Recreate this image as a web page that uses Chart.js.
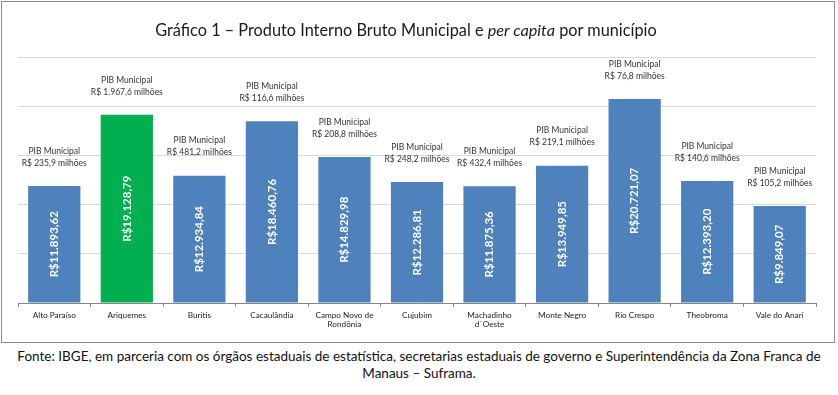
<!DOCTYPE html>
<html>
<head>
<meta charset="utf-8">
<script src="https://cdn.jsdelivr.net/npm/chart.js@4"></script>
<style>
  body { margin: 0; background: #fff; font-family: Lato, sans-serif; }
  #box { position: absolute; left: 1px; top: 1px; width: 832px; height: 340px; border: 1px solid #8c8c8c; }
  #title { position: absolute; left: -12px; top: 18px; width: 832px; text-align: center; font-size: 16.3px; color: #1a1a1a; }
  #wrap { position: absolute; left: 0; top: 0; width: 832px; height: 340px; }
  #fonte { position: absolute; left: 0; top: 348px; width: 838px; text-align: center; font-size: 13.5px; line-height: 17px; color: #111; }
</style>
</head>
<body>
<div id="box">
  <div id="wrap"><canvas id="chart"></canvas></div>
  <div id="title">Gráfico 1 – Produto Interno Bruto Municipal e <i>per capita</i> por município</div>
</div>
<div id="fonte">Fonte: IBGE, em parceria com os órgãos estaduais de estatística, secretarias estaduais de governo e Superintendência da Zona Franca de<br>Manaus – Suframa.</div>
<script>
const municipios = ['Alto Paraíso', 'Ariquemes', 'Buritis', 'Cacaulândia', ['Campo Novo de', 'Rondônia'],
  'Cujubim', ['Machadinho', 'd`Oeste'], 'Monte Negro', 'Rio Crespo', 'Theobroma', 'Vale do Anari'];
const pibPerCapita = [11893.62, 19128.79, 12934.84, 18460.76, 14829.98, 12286.81, 11875.36, 13949.85, 20721.07, 12393.20, 9849.07];
const pibMunicipal = [235.9, 1967.6, 481.2, 116.6, 208.8, 248.2, 432.4, 219.1, 76.8, 140.6, 105.2];
const destaque = 'Ariquemes';

function fmt(v, dec) {
  const parts = v.toFixed(dec).split('.');
  parts[0] = parts[0].replace(/\B(?=(\d{3})+(?!\d))/g, '.');
  return parts.join(',');
}

const barLabels = {
  id: 'barLabels',
  afterDatasetsDraw(chart) {
    const ctx = chart.ctx;
    const meta = chart.getDatasetMeta(0);
    meta.data.forEach((bar, i) => {
      ctx.save();
      ctx.fillStyle = '#333';
      ctx.font = '8.5px Lato, sans-serif';
      ctx.textAlign = 'center';
      ctx.textBaseline = 'middle';
      ctx.fillText('PIB Municipal', bar.x, bar.y - 35);
      ctx.fillText('R$ ' + fmt(pibMunicipal[i], 1) + ' milhões', bar.x, bar.y - 23);
      ctx.translate(bar.x, (bar.y + bar.base) / 2);
      ctx.rotate(-Math.PI / 2);
      ctx.fillStyle = '#fff';
      ctx.font = 'bold 11.5px Lato, sans-serif';
      ctx.fillText('R$' + fmt(pibPerCapita[i], 2), 0, 0);
      ctx.restore();
    });
  }
};

new Chart(document.getElementById('chart'), {
  type: 'bar',
  data: {
    labels: municipios,
    datasets: [{
      data: pibPerCapita,
      backgroundColor: municipios.map(m => m === destaque ? '#00B050' : '#4F81BD'),
      barPercentage: 0.72,
      categoryPercentage: 1
    }]
  },
  options: {
    responsive: true,
    maintainAspectRatio: false,
    animation: false,
    layout: { padding: { left: 16, right: 18, top: 55, bottom: 1 } },
    plugins: { legend: { display: false }, tooltip: { enabled: false } },
    scales: {
      x: {
        afterFit(scale) { scale.height = 38; },
        grid: { display: true, drawOnChartArea: false, drawTicks: true, tickLength: 4, color: '#868686' },
        border: { color: '#868686' },
        ticks: { color: '#222', font: { family: 'Lato', size: 8.2 }, padding: 3, maxRotation: 0, autoSkip: false }
      },
      y: {
        min: 0,
        max: 25000,
        ticks: { display: false, stepSize: 5000 },
        grid: { color: '#d9d9d9', drawTicks: false },
        border: { display: false }
      }
    }
  },
  plugins: [barLabels]
});
</script>
</body>
</html>
